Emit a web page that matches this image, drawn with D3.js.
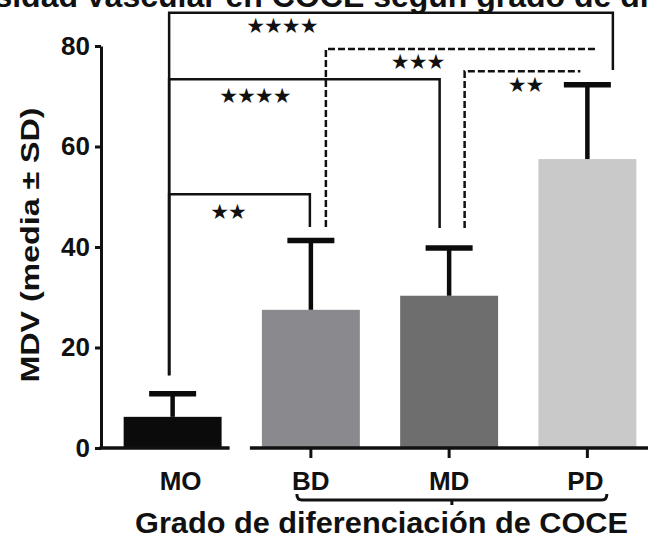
<!DOCTYPE html>
<html>
<head>
<meta charset="utf-8">
<script src="https://cdn.jsdelivr.net/npm/d3@7"></script>
<style>
  body { margin: 0; background: #fff; }
  text { font-family: "Liberation Sans", Arial, sans-serif; font-weight: bold; fill: #111; }
  .stars { font-family: "DejaVu Sans", sans-serif; font-weight: normal; }
</style>
</head>
<body>
<div id="chart"></div>
<script>
// data
var categories = ["MO", "BD", "MD", "PD"];
var means = [6.2, 27.5, 30.3, 57.5];
var sds = [4.6, 13.8, 9.5, 14.8];
var yTicks = [0, 20, 40, 60, 80];
var barColors = ["#0b0b0b", "#8a8a8e", "#6e6e6e", "#c9c9c9"];

// significance brackets (levels and leg ends in MDV units)
var compFrom = ["MO", "MO", "MO", "BD", "MD"];
var compTo = ["PD", "MD", "BD", "PD", "PD"];
var compStars = ["★★★★", "★★★★", "★★", "★★★", "★★"];
var compLevel = [86.6, 73.4, 50.5, 79.4, 75.0];
var compLegFrom = [14.5, 14.5, 14.5, 44, 43.8];
var compLegTo = [75.2, 43.8, 44, null, null];
var compDashed = [false, false, false, true, true];

var titleTop = ["Densidad", "Vascular en COCE según grado de diferenciación"];
var yTitle = "MDV (media ± SD)";
var xTitle = "Grado de diferenciación de COCE";

// layout
var width = 648, height = 538;
var offFrom = [-3.5, -3.5, -3.5, 15, 15.5];
var offTo = [25.5, -9.5, -1, 9, -7];
var labelFrac = [0.254, 0.317, 0.418, 0.339, 0.526];
var labelDy = [13, 17, 18, 13, 14];
var catDx = [8, 0, 0, -2];

var svg = d3.select("#chart").append("svg")
  .attr("width", width)
  .attr("height", height);

var x = d3.scaleBand()
  .domain(categories)
  .range([96, 664])
  .paddingInner(0.2915)
  .paddingOuter(0.2);

var y = d3.scaleLinear()
  .domain([0, 80])
  .range([448, 46]);

var cx = function(c) { return x(c) + x.bandwidth() / 2; };

// clipped title at the top
svg.append("text")
  .attr("x", 78).attr("y", 7)
  .attr("text-anchor", "end")
  .style("font-size", "32px")
  .text(titleTop[0]);
svg.append("text")
  .attr("x", 85).attr("y", 7)
  .style("font-size", "32px")
  .text(titleTop[1]);

// bars
svg.append("g").selectAll("rect")
  .data(categories)
  .enter().append("rect")
  .attr("x", d => x(d))
  .attr("width", x.bandwidth())
  .attr("y", (d, i) => y(means[i]))
  .attr("height", (d, i) => y(0) - y(means[i]))
  .attr("fill", (d, i) => barColors[i]);

// error bars (upper only)
var err = svg.append("g").attr("stroke", "#0b0b0b");
categories.forEach(function(c, i) {
  err.append("line")
    .attr("x1", cx(c)).attr("x2", cx(c))
    .attr("y1", y(means[i])).attr("y2", y(means[i] + sds[i]))
    .attr("stroke-width", 4.5);
  err.append("line")
    .attr("x1", cx(c) - 23.5).attr("x2", cx(c) + 23.5)
    .attr("y1", y(means[i] + sds[i])).attr("y2", y(means[i] + sds[i]))
    .attr("stroke-width", 5.5);
});

// y axis
var yAxis = svg.append("g")
  .attr("transform", "translate(101,0)")
  .call(d3.axisLeft(y).tickValues(yTicks).tickSize(6).tickSizeOuter(0).tickPadding(5));
yAxis.select(".domain").attr("stroke", "#111").attr("stroke-width", 3);
yAxis.selectAll(".tick line").attr("stroke", "#111").attr("stroke-width", 3);
yAxis.selectAll(".tick text")
  .style("font-size", "26px")
  .style("font-family", "Liberation Sans, Arial, sans-serif")
  .style("font-weight", "bold")
  .attr("fill", "#111");

// broken x axis
svg.append("line")
  .attr("x1", 99.5).attr("x2", x("MO") + x.bandwidth() + 8)
  .attr("y1", y(0)).attr("y2", y(0))
  .attr("stroke", "#111").attr("stroke-width", 3.5);
svg.append("line")
  .attr("x1", x("BD") - 12).attr("x2", width)
  .attr("y1", y(0)).attr("y2", y(0))
  .attr("stroke", "#111").attr("stroke-width", 3.5);
svg.append("g").selectAll("line")
  .data(categories.slice(1))
  .enter().append("line")
  .attr("x1", d => cx(d)).attr("x2", d => cx(d))
  .attr("y1", y(0)).attr("y2", y(0) + 10)
  .attr("stroke", "#111").attr("stroke-width", 3);

// category labels
svg.append("g").selectAll("text")
  .data(categories)
  .enter().append("text")
  .attr("x", (d, i) => cx(d) + catDx[i])
  .attr("y", 490)
  .attr("text-anchor", "middle")
  .style("font-size", "26px")
  .text(d => d);

// brace under BD..PD
var bx1 = cx("BD") - 14, bx2 = cx("PD") + 19.5, by = 500;
svg.append("path")
  .attr("d", "M" + bx1 + "," + (by - 6) + "Q" + bx1 + "," + by + " " + (bx1 + 5) + "," + by +
             "L" + (bx2 - 5) + "," + by + "Q" + bx2 + "," + by + " " + bx2 + "," + (by - 6))
  .attr("fill", "none").attr("stroke", "#111").attr("stroke-width", 3);
svg.append("line")
  .attr("x1", (bx1 + bx2) / 2).attr("x2", (bx1 + bx2) / 2)
  .attr("y1", by).attr("y2", by + 5)
  .attr("stroke", "#111").attr("stroke-width", 3);

// axis titles
svg.append("text")
  .attr("x", 381.5).attr("y", 533)
  .attr("text-anchor", "middle")
  .attr("textLength", 493)
  .attr("lengthAdjust", "spacingAndGlyphs")
  .style("font-size", "29px")
  .text(xTitle);

svg.append("text")
  .attr("transform", "translate(30,245) rotate(-90)")
  .attr("text-anchor", "middle")
  .attr("dominant-baseline", "central")
  .attr("textLength", 275)
  .attr("lengthAdjust", "spacingAndGlyphs")
  .style("font-size", "26px")
  .text(yTitle);

// significance brackets
var br = svg.append("g").attr("fill", "none").attr("stroke", "#111").attr("stroke-width", 2.5);
compFrom.forEach(function(a, i) {
  var x1 = cx(a) + offFrom[i], x2 = cx(compTo[i]) + offTo[i];
  var yl = y(compLevel[i]);
  var d = "M" + x1 + "," + y(compLegFrom[i]) + "L" + x1 + "," + yl + "L" + x2 + "," + yl;
  if (compLegTo[i] != null) d += "L" + x2 + "," + y(compLegTo[i]);
  br.append("path")
    .attr("d", d)
    .attr("stroke-dasharray", compDashed[i] ? "7,3" : null);
  svg.append("text")
    .attr("class", "stars")
    .attr("x", x1 + (x2 - x1) * labelFrac[i])
    .attr("y", yl + labelDy[i])
    .attr("text-anchor", "middle")
    .attr("dominant-baseline", "central")
    .attr("letter-spacing", "-1px")
    .style("font-size", "21px")
    .text(compStars[i]);
});
</script>
</body>
</html>
